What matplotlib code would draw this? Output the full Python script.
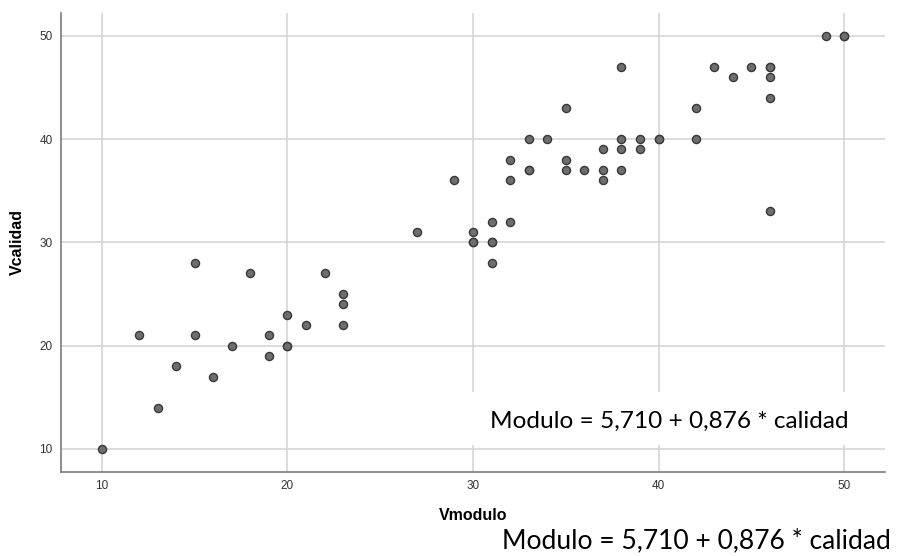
import matplotlib.pyplot as plt
from matplotlib.patches import Rectangle

# Vmodulo vs Vcalidad (duplicates where points overlap)
vmodulo = [10, 12, 13, 14, 15, 15, 16, 17, 18, 19, 19, 20, 20, 20, 21, 22, 23, 23, 23,
           27, 29, 30, 30, 30, 31, 31, 31, 31, 32, 32, 32, 33, 33, 33, 34, 35, 35, 35,
           36, 37, 37, 37, 38, 38, 38, 38, 39, 39, 40, 40, 42, 42, 43, 44, 45, 46, 46,
           46, 46, 46, 49, 50, 50]
vcalidad = [10, 21, 14, 18, 21, 28, 17, 20, 27, 21, 19, 20, 20, 23, 22, 27, 25, 24, 22,
            31, 36, 31, 30, 30, 32, 30, 30, 28, 38, 36, 32, 40, 37, 37, 40, 43, 38, 37,
            37, 39, 37, 36, 47, 40, 39, 37, 40, 39, 40, 40, 43, 40, 47, 46, 47, 47, 47,
            46, 44, 33, 50, 50, 50]

ticks = [10, 20, 30, 40, 50]
equation = "Modulo = 5,710 + 0,876 * calidad"

W, H = 898, 556
fig = plt.figure(figsize=(W / 100, H / 100), dpi=100)
ax = fig.add_axes([61 / W, 1 - 471.7 / H, (885 - 61) / W, (471.7 - 13) / H])

ax.scatter(vmodulo, vcalidad, s=34, facecolor='#6e6e6e', edgecolor='#383838',
           linewidth=1.0, zorder=3)

ax.set_xlim(7.8, 52.2)
ax.set_ylim(7.8, 52.2)
ax.set_xticks(ticks)
ax.set_yticks(ticks)
ax.grid(True, color='#d2d2d2', linewidth=1.1)
ax.set_axisbelow(True)
for side in ['top', 'right']:
    ax.spines[side].set_visible(False)
for side in ['left', 'bottom']:
    ax.spines[side].set_color('#7a7a7a')
    ax.spines[side].set_linewidth(1.2)
ax.tick_params(length=0, labelsize=8.5, labelcolor='#333333', pad=6)
for lab in ax.get_xticklabels() + ax.get_yticklabels():
    lab.set_fontfamily('Liberation Sans')

ax.set_xlabel('Vmodulo', fontsize=11.5, fontweight='bold', family='Liberation Sans')
ax.set_ylabel('Vcalidad', fontsize=11.5, fontweight='bold', family='Liberation Sans')
ax.xaxis.set_label_coords(0.5, -0.079)
ax.yaxis.set_label_coords(-0.044, 0.5)

# white box hiding the grid behind the pasted equation
box = Rectangle((462 / W, 1 - 445 / H), (890 - 462) / W, (445 - 392) / H,
                transform=fig.transFigure, facecolor='white', edgecolor='none', zorder=1)
fig.add_artist(box)

fig.text(490 / W, 1 - 428 / H, equation, fontsize=17.6, family='Lato',
         ha='left', va='baseline', color='black', zorder=4)
fig.text(502 / W, 1 - 548 / H, equation, fontsize=19.1, family='Lato',
         ha='left', va='baseline', color='black', zorder=4)

fig.savefig('out.png', dpi=100)
